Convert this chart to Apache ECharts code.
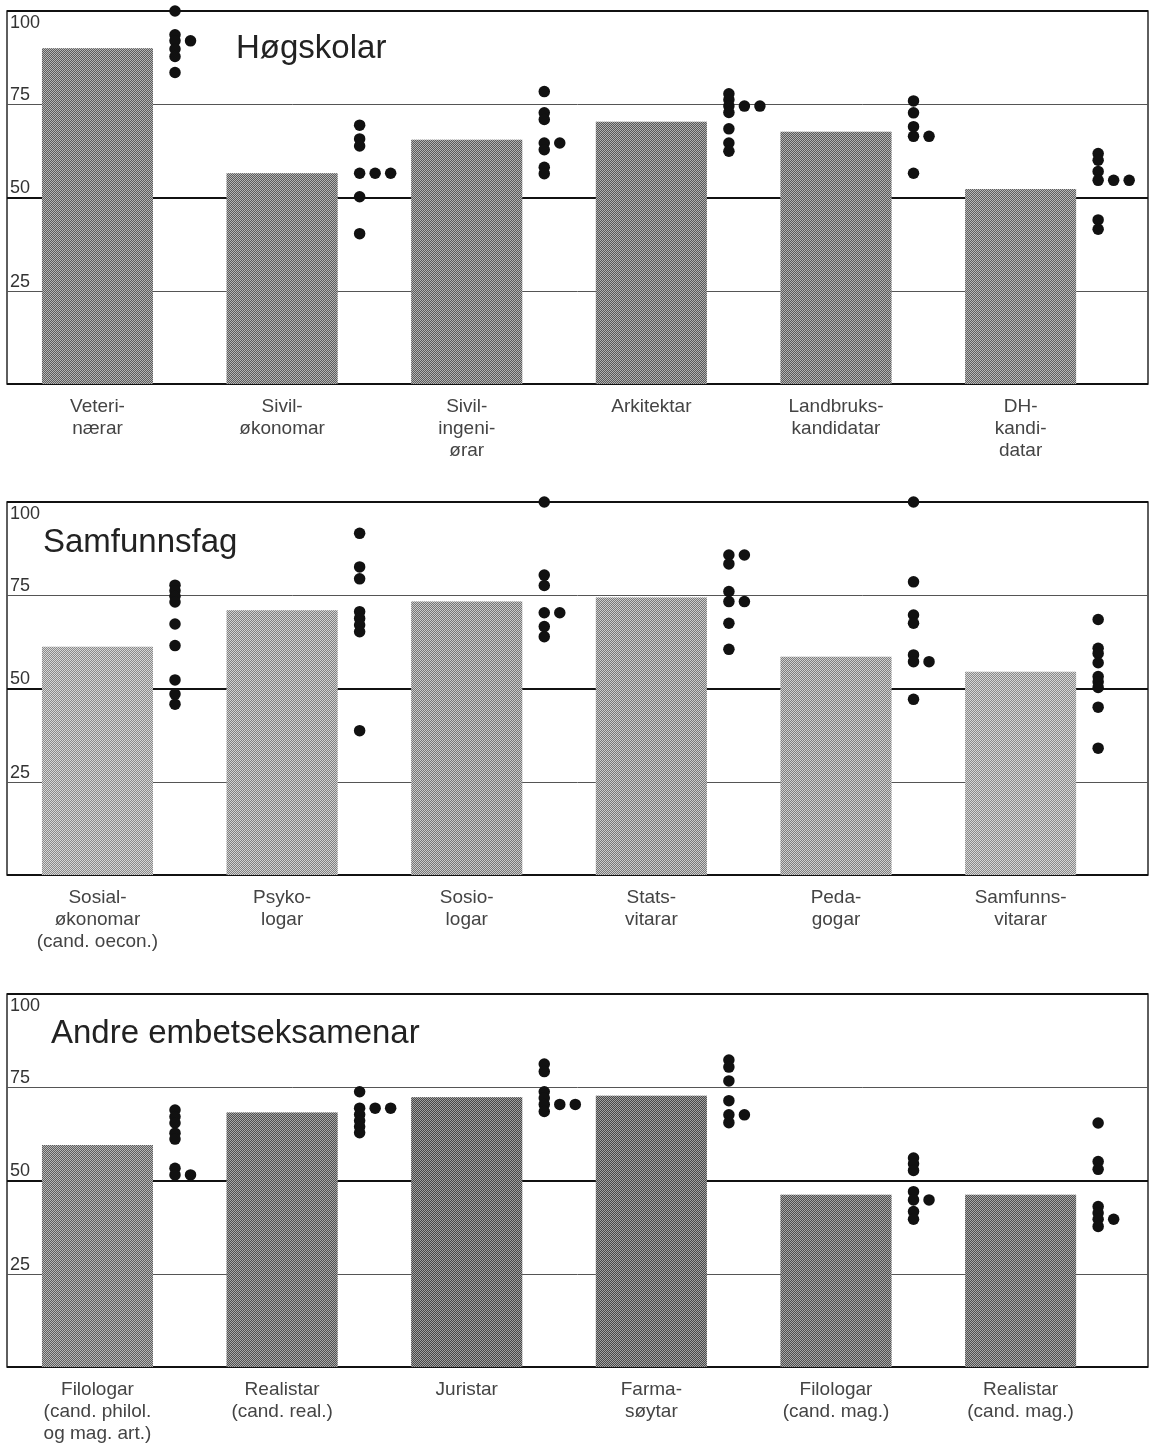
<!DOCTYPE html>
<html>
<head>
<meta charset="utf-8">
<script src="https://cdn.jsdelivr.net/npm/echarts@6/dist/echarts.min.js"></script>
<style>
html,body{margin:0;padding:0;background:#ffffff;}
#chart{width:1153px;height:1448px;}
</style>
</head>
<body>
<div id="chart"></div>
<script>
// ---------- DATA ----------
const panelTitles = ['Høgskolar', 'Samfunnsfag', 'Andre embetseksamenar'];

// Panel 1: Høgskolar
const cats1 = ['Veteri-\nnærar', 'Sivil-\nøkonomar', 'Sivil-\ningeni-\nørar', 'Arkitektar', 'Landbruks-\nkandidatar', 'DH-\nkandi-\ndatar'];
const bars1 = [90, 56.5, 65.5, 70.3, 67.6, 52.3];
const dotsVeterinaerar = [100, 93.6, 92, 92, 89.8, 87.8, 83.5];
const dotsSivilokonomar = [69.4, 65.7, 63.8, 56.5, 56.5, 56.5, 50.2, 40.3];
const dotsSivilingeniorar = [78.4, 72.7, 70.9, 64.6, 64.6, 62.8, 58.1, 56.4];
const dotsArkitektar = [77.8, 76.2, 74.5, 74.5, 74.5, 72.8, 68.4, 64.6, 62.4];
const dotsLandbruk = [75.9, 72.7, 69, 66.4, 66.4, 56.5];
const dotsDH = [61.8, 60, 57, 54.6, 54.6, 54.6, 44, 41.5];

// Panel 2: Samfunnsfag
const cats2 = ['Sosial-\nøkonomar\n(cand. oecon.)', 'Psyko-\nlogar', 'Sosio-\nlogar', 'Stats-\nvitarar', 'Peda-\ngogar', 'Samfunns-\nvitarar'];
const bars2 = [61.2, 71.0, 73.3, 74.4, 58.5, 54.5];
const dotsSosialokonomar = [77.7, 76.2, 74.7, 73.2, 67.3, 61.5, 52.3, 48.5, 45.8];
const dotsPsykologar = [91.6, 82.6, 79.4, 70.6, 68.8, 67.0, 65.2, 38.7];
const dotsSosiologar = [100, 80.4, 77.6, 70.3, 70.3, 66.6, 63.9];
const dotsStatsvitarar = [85.8, 85.8, 83.4, 76, 73.3, 73.3, 67.5, 60.5];
const dotsPedagogar = [100, 78.6, 69.7, 67.5, 59, 57.2, 57.2, 47.1];
const dotsSamfunnsvitarar = [68.5, 60.8, 59.4, 56.9, 53.2, 51.8, 50.3, 45, 34];

// Panel 3: Andre embetseksamenar
const cats3 = ['Filologar\n(cand. philol.\nog mag. art.)', 'Realistar\n(cand. real.)', 'Juristar', 'Farma-\nsøytar', 'Filologar\n(cand. mag.)', 'Realistar\n(cand. mag.)'];
const bars3 = [59.5, 68.2, 72.3, 72.7, 46.2, 46.2];
const dotsFilologarPhilol = [68.9, 67.1, 65.4, 62.7, 61.1, 53.3, 51.5, 51.5];
const dotsRealistarReal = [73.8, 69.4, 69.4, 69.4, 67.7, 66.0, 64.4, 62.8];
const dotsJuristar = [81.2, 79.2, 73.8, 72.1, 70.4, 70.4, 70.4, 68.5];
const dotsFarmasoytar = [82.3, 80.4, 76.7, 71.4, 67.6, 67.6, 65.5];
const dotsFilologarMag = [56, 54.5, 52.7, 47, 44.8, 44.8, 41.7, 39.6];
const dotsRealistarMag = [65.4, 55.1, 53, 43, 41.3, 39.6, 39.6, 37.7];

const yTickLabels = ['25', '50', '75', '100'];

// ---------- ASSEMBLY ----------
const panels = [
  {cats: cats1, bars: bars1, dots: [dotsVeterinaerar, dotsSivilokonomar, dotsSivilingeniorar, dotsArkitektar, dotsLandbruk, dotsDH]},
  {cats: cats2, bars: bars2, dots: [dotsSosialokonomar, dotsPsykologar, dotsSosiologar, dotsStatsvitarar, dotsPedagogar, dotsSamfunnsvitarar]},
  {cats: cats3, bars: bars3, dots: [dotsFilologarPhilol, dotsRealistarReal, dotsJuristar, dotsFarmasoytar, dotsFilologarMag, dotsRealistarMag]}
];

// halftone look: light base + dark checker decal  [light, dark]
const barTones = [
  [['#b4b4b4', '#5c5c5c'], ['#b4b4b4', '#5c5c5c'], ['#b2b2b2', '#5a5a5a'], ['#b0b0b0', '#585858'], ['#b2b2b2', '#5a5a5a'], ['#b8b8b8', '#606060']],
  [['#d6d6d6', '#8a8a8a'], ['#d2d2d2', '#808080'], ['#cacaca', '#767676'], ['#cccccc', '#787878'], ['#d0d0d0', '#7e7e7e'], ['#d6d6d6', '#8a8a8a']],
  [['#b6b6b6', '#5e5e5e'], ['#a8a8a8', '#505050'], ['#a0a0a0', '#464646'], ['#a2a2a2', '#484848'], ['#a6a6a6', '#4e4e4e'], ['#a8a8a8', '#505050']]
];
const gridTops = [11, 502, 994];
const FONT = '"Liberation Sans", Arial, Helvetica, sans-serif';
const titlePos = [{left: 236, top: 32}, {left: 43, top: 526}, {left: 51, top: 1017}];

// dot-plot layout: equal values are placed side by side
function layoutDots(list, j) {
  const seen = {};
  return list.map(v => {
    const k = seen[v] || 0;
    seen[v] = k + 1;
    return [j + 0.42 + k * 0.084, v];
  });
}

const option = {
  animation: false,
  backgroundColor: '#ffffff',
  title: panelTitles.map((t, i) => ({
    text: t, left: titlePos[i].left, top: titlePos[i].top, padding: 0,
    textStyle: {fontSize: 33, fontWeight: 'normal', color: '#222', fontFamily: FONT}
  })),
  grid: gridTops.map(t => ({
    left: 7, right: 5, top: t, height: 373, show: true,
    borderColor: '#2a2a2a', borderWidth: 1.5, backgroundColor: 'transparent'
  })),
  xAxis: panels.map((p, i) => ({
    gridIndex: i, type: 'value', min: -0.49, max: 5.69, position: 'bottom',
    splitLine: {show: false}, axisLine: {show: false}, axisTick: {show: false},
    axisLabel: {
      customValues: [0, 1, 2, 3, 4, 5],
      formatter: v => (Number.isInteger(v) && p.cats[v]) ? p.cats[v] : '',
      fontSize: 19, lineHeight: 22, color: '#444', margin: 12, fontFamily: FONT
    }
  })),
  yAxis: [],
  series: []
};

panels.forEach((p, i) => {
  // thin grid lines + labels 25/50/75
  option.yAxis.push({
    gridIndex: i, type: 'value', min: 0, max: 100, interval: 25, position: 'left', offset: 0,
    axisLine: {show: false}, axisTick: {show: false},
    splitLine: {lineStyle: {color: '#555', width: 1}},
    axisLabel: {
      inside: true, verticalAlign: 'bottom', margin: 3, fontSize: 18, color: '#333', fontFamily: FONT,
      formatter: v => (yTickLabels.indexOf(String(v)) >= 0 && v < 100) ? String(v) : ''
    }
  });
  // heavy 50 line
  option.yAxis.push({
    gridIndex: i, type: 'value', min: 0, max: 100, interval: 50, position: 'left', offset: 0,
    axisLine: {show: false}, axisTick: {show: false}, axisLabel: {show: false},
    splitLine: {lineStyle: {color: '#111', width: 1.8}}
  });
  // 100 label (just below the top border)
  option.yAxis.push({
    gridIndex: i, type: 'value', min: 0, max: 100, interval: 100, position: 'left', offset: 0,
    axisLine: {show: false}, axisTick: {show: false}, splitLine: {show: false},
    axisLabel: {
      inside: true, verticalAlign: 'top', margin: 3, fontSize: 18, color: '#333', fontFamily: FONT,
      padding: [3, 0, 0, 0],
      formatter: v => (v === 100) ? yTickLabels[3] : ''
    }
  });

  option.series.push({
    type: 'bar', xAxisIndex: i, yAxisIndex: i * 3, barWidth: 111, z: 2,
    data: p.bars.map((v, j) => ({
      value: [j, v],
      itemStyle: {
        color: barTones[i][j][0],
        decal: {
          symbol: 'rect', symbolSize: 1,
          dashArrayX: [[1, 1], [0, 1, 1, 0]], dashArrayY: [1, 0],
          color: barTones[i][j][1]
        }
      }
    }))
  });
  let pts = [];
  p.dots.forEach((list, j) => { pts = pts.concat(layoutDots(list, j)); });
  option.series.push({
    type: 'scatter', xAxisIndex: i, yAxisIndex: i * 3, symbolSize: 11.5, clip: false, z: 3,
    itemStyle: {color: '#111', opacity: 1},
    data: pts
  });
});

const chart = echarts.init(document.getElementById('chart'), null, {renderer: 'canvas'});
chart.setOption(option);
</script>
</body>
</html>
